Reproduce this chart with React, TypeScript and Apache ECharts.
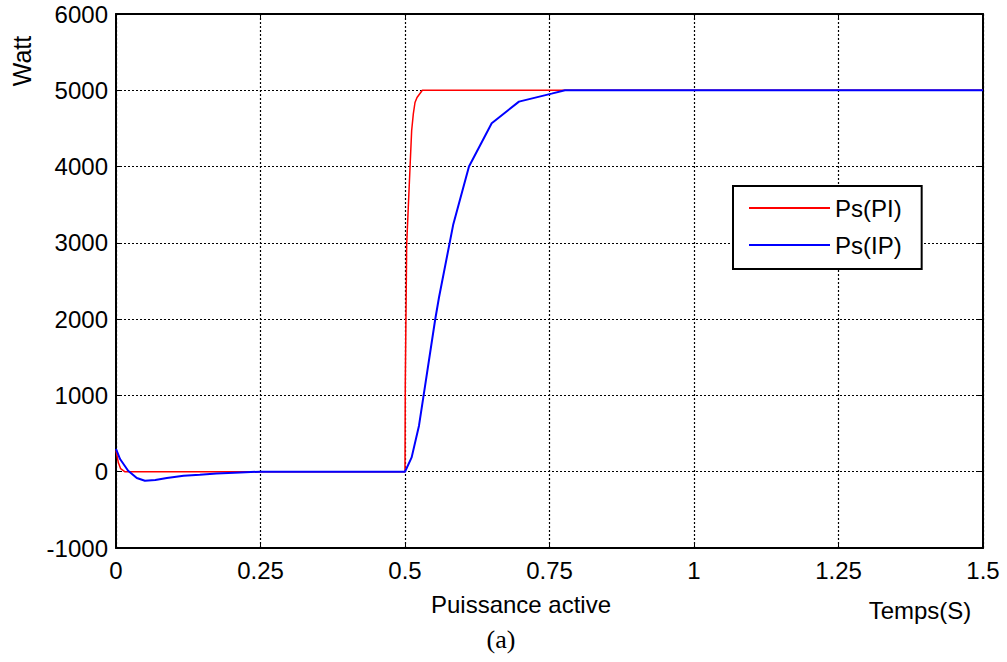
import React, { useEffect, useRef } from "react";
import * as echarts from "echarts";

const xTicks = [0, 0.25, 0.5, 0.75, 1, 1.25, 1.5];
const yTicks = [-1000, 0, 1000, 2000, 3000, 4000, 5000, 6000];

const piTime = [0, 0.004, 0.008, 0.015, 0.5, 0.5005, 0.5029, 0.5087, 0.5115, 0.5144, 0.5173, 0.5208, 0.53, 1.5];
const piPower = [280, 120, 40, 0, 0, 1150, 2980, 3990, 4470, 4690, 4840, 4905, 5000, 5000];

const ipTime = [0, 0.007, 0.021, 0.036, 0.05, 0.068, 0.088, 0.117, 0.145, 0.174, 0.215, 0.25, 0.5, 0.5115, 0.5242, 0.5317, 0.5519, 0.5588, 0.5836, 0.6107, 0.65, 0.6972, 0.7537, 0.7768, 1.5];
const ipPower = [300, 166, 13, -83, -118, -109, -83, -52, -39, -22, -9, 0, 0, 188, 603, 974, 1979, 2284, 3245, 4000, 4568, 4851, 4956, 5000, 5000];

const seriesNames = ["Ps(PI)", "Ps(IP)"];
const xLabel = "Puissance active";
const xUnit = "Temps(S)";
const yLabel = "Watt";
const caption = "(a)";

const FONT = "'Liberation Sans', Arial, sans-serif";

export default function App() {
  const ref = useRef<HTMLDivElement>(null);
  useEffect(() => {
    if (!ref.current) return;
    const chart = echarts.init(ref.current, null, { renderer: "svg" });
    const pi = piTime.map((t, i) => [t, piPower[i]]);
    const ip = ipTime.map((t, i) => [t, ipPower[i]]);
    const axisCommon = {
      type: "value" as const,
      axisLine: { show: true, onZero: false, lineStyle: { color: "#000", width: 2 } },
      axisTick: { show: true, inside: true, length: 5, lineStyle: { color: "#000", width: 1 } },
    };
    const grid = { color: "#000", type: [2, 2], width: 1.2 };
    chart.setOption({
      animation: false,
      backgroundColor: "#fff",
      grid: { left: 116, right: 24, top: 14, bottom: 114, show: false },
      xAxis: [
        {
          ...axisCommon,
          min: xTicks[0],
          max: xTicks[xTicks.length - 1],
          interval: 0.25,
          position: "bottom",
          axisLabel: { color: "#000", fontSize: 24, fontFamily: FONT, margin: 10, formatter: (v: number) => String(v) },
          splitLine: { show: true, lineStyle: grid },
        },
        {
          ...axisCommon,
          min: xTicks[0],
          max: xTicks[xTicks.length - 1],
          interval: 0.25,
          position: "top",
          axisLabel: { show: false },
          splitLine: { show: false },
        },
      ],
      yAxis: [
        {
          ...axisCommon,
          min: yTicks[0],
          max: yTicks[yTicks.length - 1],
          interval: 1000,
          position: "left",
          axisLabel: { color: "#000", fontSize: 24, fontFamily: FONT, margin: 8, formatter: (v: number) => String(v) },
          splitLine: { show: true, lineStyle: grid },
        },
        {
          ...axisCommon,
          min: yTicks[0],
          max: yTicks[yTicks.length - 1],
          interval: 1000,
          position: "right",
          axisLabel: { show: false },
          splitLine: { show: false },
        },
      ],
      legend: {
        orient: "vertical",
        left: 733,
        top: 186,
        padding: [10, 20, 12, 16],
        itemGap: 13,
        itemWidth: 81,
        itemHeight: 2,
        icon: "rect",
        borderColor: "#000",
        borderWidth: 2,
        backgroundColor: "#fff",
        textStyle: { color: "#000", fontSize: 24, fontFamily: FONT, lineHeight: 24 },
        data: seriesNames,
      },
      series: [
        {
          name: seriesNames[0],
          type: "line",
          data: pi,
          symbol: "none",
          lineStyle: { color: "#ff0000", width: 1.5 },
          itemStyle: { color: "#ff0000" },
        },
        {
          name: seriesNames[1],
          type: "line",
          data: ip,
          symbol: "none",
          lineStyle: { color: "#0000ff", width: 2 },
          itemStyle: { color: "#0000ff" },
        },
      ],
      graphic: [
        {
          type: "text",
          x: 521,
          y: 604,
          style: { text: xLabel, fill: "#000", font: `24px ${FONT}`, align: "center", verticalAlign: "middle" },
        },
        {
          type: "text",
          x: 920,
          y: 610,
          style: { text: xUnit, fill: "#000", font: `24px ${FONT}`, align: "center", verticalAlign: "middle" },
        },
        {
          type: "text",
          x: 501,
          y: 639,
          style: { text: caption, fill: "#000", font: `26px 'Liberation Serif', 'Times New Roman', serif`, align: "center", verticalAlign: "middle" },
        },
        {
          type: "text",
          x: 22,
          y: 61,
          rotation: Math.PI / 2,
          style: { text: yLabel, fill: "#000", font: `25px ${FONT}`, align: "center", verticalAlign: "middle" },
        },
      ],
    });
    return () => chart.dispose();
  }, []);
  return <div ref={ref} style={{ width: 1007, height: 662, position: "absolute", left: 0, top: 0 }} />;
}
